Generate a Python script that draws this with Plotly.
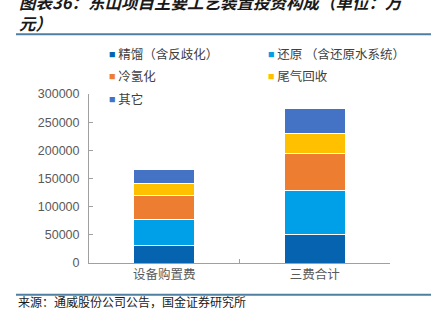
import plotly.graph_objects as go

categories = ["设备购置费", "三费合计"]
series_names = ["精馏（含反歧化）", "还原 （含还原水系统）", "冷氢化", "尾气回收", "其它"]
jingliu = [30400, 49800]
huanyuan = [47600, 78200]
lengqinghua = [41600, 66500]
weiqi = [22400, 34600]
qita = [24700, 44800]
y_ticks = [0, 50000, 100000, 150000, 200000, 250000, 300000]

values = [jingliu, huanyuan, lengqinghua, weiqi, qita]
colors = ["#0563B0", "#00A0E8", "#ED7D31", "#FFC000", "#4472C4"]
legend_of = ["legend", "legend2", "legend", "legend2", "legend"]

W, H = 431, 323
L, R, T, B = 89, 41, 93.5, 59.5
ph = H - T - B
pw = W - L - R

def py(p):
    return (H - B - p) / ph

def px(p):
    return (p - L) / pw

fig = go.Figure()
for name, vals, col in zip(series_names, values, colors):
    fig.add_trace(go.Bar(
        x=categories, y=vals, name=name, marker=dict(color=col, line=dict(color="white", width=1)),
        showlegend=False, hoverinfo="skip"))
for name, col, lg in zip(series_names, colors, legend_of):
    label = ("<span style='font-size:6.5px;fill:%s;baseline-shift:2.5px'>■</span> %s" % (col, name))
    fig.add_trace(go.Scatter(
        x=[categories[0]], y=[None], mode="markers", name=label, legend=lg, legendgroup=name,
        marker=dict(symbol="square", size=1, color="rgba(0,0,0,0)",
                    line=dict(width=0, color="rgba(0,0,0,0)")),
        showlegend=True, hoverinfo="skip"))

legend_common = dict(
    xref="container", yref="container", yanchor="top", xanchor="left",
    orientation="v", traceorder="grouped", tracegroupgap=3,
    bgcolor="rgba(0,0,0,0)", borderwidth=0, indentation=-15,
    font=dict(family="Noto Sans CJK SC", size=12.5, color="#404040"))

fig.update_layout(
    width=W, height=H,
    margin=dict(l=L, r=R, t=T, b=B, autoexpand=False),
    paper_bgcolor="white", plot_bgcolor="white",
    barmode="stack", bargap=0.595,
    showlegend=True,
    legend=dict(x=84 / W, y=1 - 39.5 / H, **legend_common),
    legend2=dict(x=243 / W, y=1 - 39.5 / H, **legend_common),
    xaxis=dict(
        type="category", categoryorder="array", categoryarray=categories,
        showline=True, linecolor="#a0a0a0", linewidth=1,
        ticks="inside", tickson="boundaries", ticklen=4, tickcolor="#a0a0a0",
        tickfont=dict(family="Noto Sans CJK SC", size=12.5, color="#595959"),
        showgrid=False, zeroline=False, fixedrange=True),
    yaxis=dict(
        range=[0, 300000], tickvals=y_ticks, ticktext=[str(v) for v in y_ticks],
        showline=True, linecolor="#a0a0a0", linewidth=1,
        ticks="inside", ticklen=4, tickcolor="#a0a0a0",
        ticklabelstandoff=6,
        tickfont=dict(family="Liberation Sans, Arial", size=12.5, color="#595959"),
        showgrid=False, zeroline=False, fixedrange=True),
    font=dict(family="Noto Sans CJK SC"),
)

fig.add_annotation(
    text="<b><i>图表36：东山项目主要工艺装置投资构成（单位：万<br>元）</i></b>",
    xref="paper", yref="paper", x=px(17), y=py(12), xanchor="left", yanchor="middle",
    align="left", showarrow=False,
    font=dict(family="Noto Sans CJK SC", size=16.5, color="#1a1a1a"))
fig.add_annotation(
    text="来源：通威股份公司公告，国金证券研究所",
    xref="paper", yref="paper", x=px(16), y=py(302.5), xanchor="left", yanchor="middle",
    showarrow=False,
    font=dict(family="Noto Sans CJK SC", size=12, color="#1a1a1a"))

for yy in (33.5, 295.5):
    fig.add_shape(type="line", xref="paper", yref="paper",
                  x0=px(16), x1=px(431), y0=py(yy), y1=py(yy),
                  line=dict(color="#4F7FA0", width=2))

fig.write_html("out.html")
